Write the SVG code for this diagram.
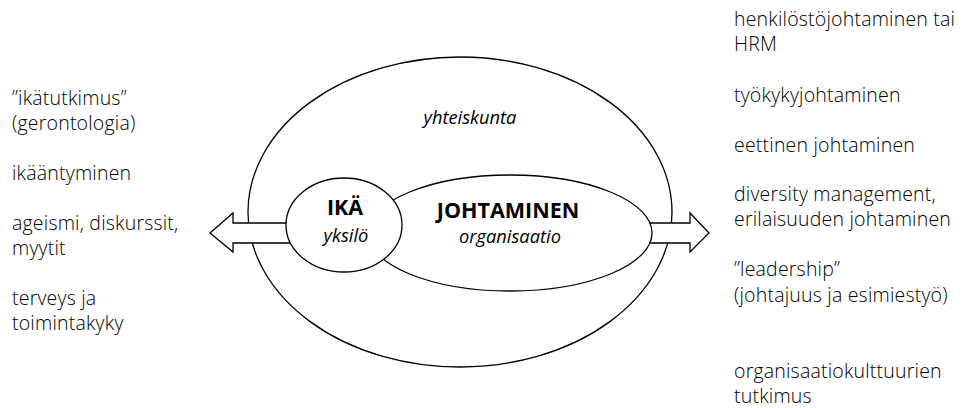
<svg xmlns="http://www.w3.org/2000/svg" width="964" height="408" viewBox="0 0 964 408">
<style>
.ln{fill:#fff;stroke:#000;stroke-width:1.3}
.t{font-family:"Open Sans","Noto Sans",sans-serif;font-weight:300;font-size:19.5px;letter-spacing:0.2px;fill:#000}
.it{font-family:"Open Sans","Noto Sans",sans-serif;font-style:italic;font-size:18.3px;fill:#000;text-anchor:middle}
.b{font-family:"Open Sans","Noto Sans",sans-serif;font-weight:bold;font-size:21.5px;fill:#000;text-anchor:middle}
</style>
<rect width="964" height="408" fill="#fff"/>
<g id="yhteiskunta">
<ellipse class="ln" cx="460" cy="212" rx="212" ry="155"/>
<text class="it" x="470" y="124">yhteiskunta</text>
</g>
<g id="connectors">
<path class="ln" d="M290,223 H233 V213 L210,233 L233,252 V243 H290 Z"/>
<path class="ln" d="M640,223 H690 V213 L709,233 L690,252 V243 H640 Z"/>
</g>
<g id="johtaminen">
<ellipse class="ln" cx="510" cy="233" rx="142" ry="58"/>
<text class="b" x="508" y="218">JOHTAMINEN</text>
<text class="it" x="510" y="243">organisaatio</text>
</g>
<g id="ika">
<ellipse class="ln" cx="344" cy="225" rx="58" ry="47"/>
<text class="b" x="345" y="215">IKÄ</text>
<text class="it" x="346" y="242">yksilö</text>
</g>
<g id="left">
<text class="t" x="12" y="105">”ikätutkimus”</text>
<text class="t" x="12" y="130">(gerontologia)</text>
<text class="t" x="12" y="180">ikääntyminen</text>
<text class="t" x="12" y="230">ageismi, diskurssit,</text>
<text class="t" x="12" y="255">myytit</text>
<text class="t" x="12" y="305">terveys ja</text>
<text class="t" x="12" y="330">toimintakyky</text>
</g>
<g id="right">
<text class="t" x="734" y="26">henkilöstöjohtaminen tai</text>
<text class="t" x="734" y="51">HRM</text>
<text class="t" x="734" y="102">työkykyjohtaminen</text>
<text class="t" x="734" y="152">eettinen johtaminen</text>
<text class="t" x="734" y="201">diversity management,</text>
<text class="t" x="734" y="226">erilaisuuden johtaminen</text>
<text class="t" x="734" y="276">”leadership”</text>
<text class="t" x="734" y="302">(johtajuus ja esimiestyö)</text>
<text class="t" x="734" y="378">organisaatiokulttuurien</text>
<text class="t" x="734" y="403">tutkimus</text>
</g>
</svg>
